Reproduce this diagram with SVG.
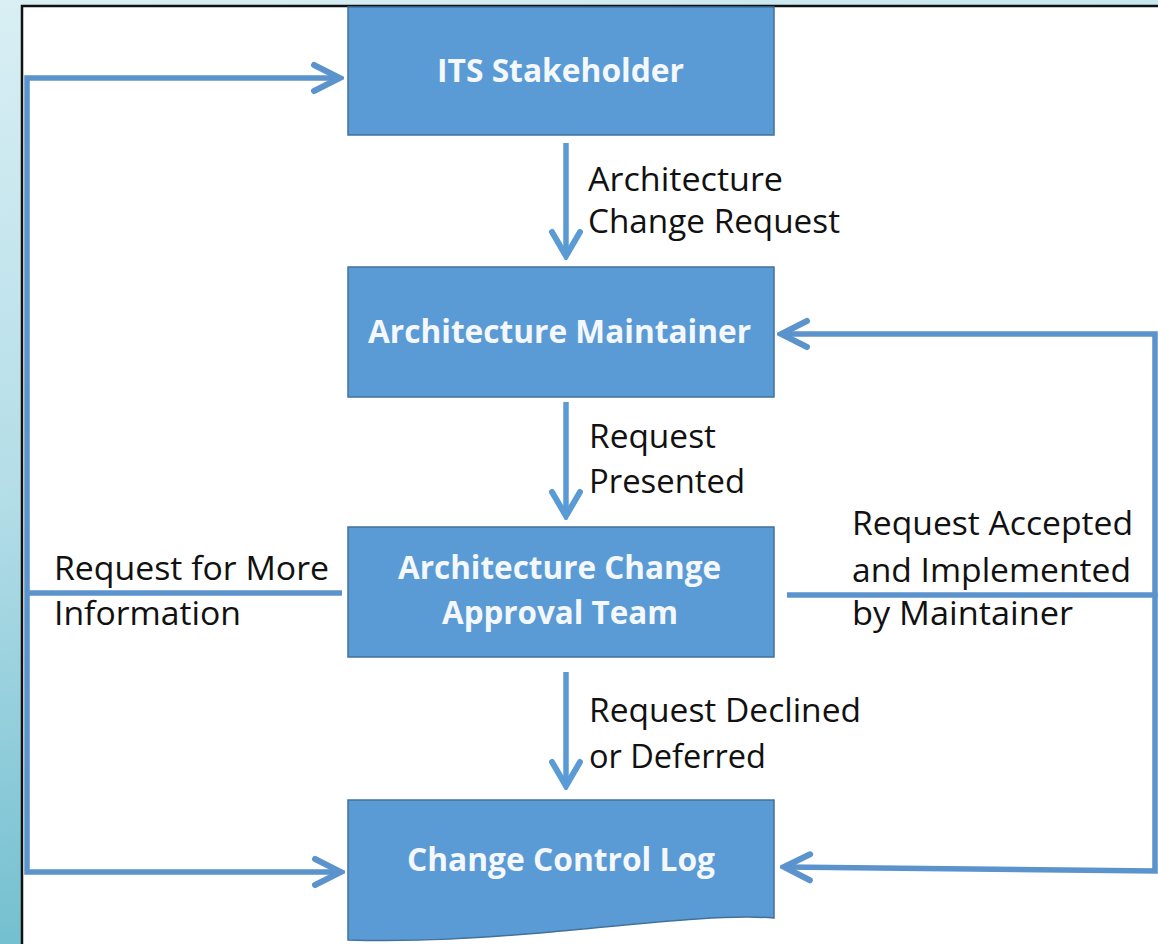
<svg xmlns="http://www.w3.org/2000/svg" width="1158" height="944" viewBox="0 0 1158 944">
  <defs>
    <linearGradient id="bg" x1="0" y1="0" x2="0.25" y2="1">
      <stop offset="0" stop-color="#d9eff4"/>
      <stop offset="0.5" stop-color="#b3dde7"/>
      <stop offset="1" stop-color="#6cbccd"/>
    </linearGradient>
    <marker id="chev" markerUnits="userSpaceOnUse" viewBox="0 0 34 34" refX="30" refY="17" markerWidth="34" markerHeight="34" orient="auto">
      <path d="M4,4 L30,17 L4,30" fill="none" stroke="#5b93cc" stroke-width="6" stroke-linecap="round" stroke-linejoin="miter"/>
    </marker>
    <marker id="chevV" markerUnits="userSpaceOnUse" viewBox="0 0 34 34" refX="30" refY="17" markerWidth="34" markerHeight="34" orient="auto">
      <path d="M6,3 L30,17 L6,31" fill="none" stroke="#5b9bd5" stroke-width="6" stroke-linecap="round"/>
    </marker>
  </defs>
  <style>
    .box { fill: #5b9bd5; stroke: #41719c; stroke-width: 1.5; }
    .bt { font-family: "Open Sans", "Liberation Sans", sans-serif; font-weight: bold; font-size: 32px; fill: #f4f8fc; }
    .lt { font-family: "Open Sans", "Liberation Sans", sans-serif; font-size: 33px; fill: #111111; }
    .con { fill: none; stroke: #5b93cc; stroke-width: 5.5; stroke-linejoin: miter; }
    .vcon { fill: none; stroke: #5b9bd5; stroke-width: 5.5; }
  </style>

  <rect x="0" y="0" width="1158" height="944" fill="url(#bg)"/>
  <rect x="22" y="6" width="1150" height="950" fill="#ffffff" stroke="#111111" stroke-width="2.5"/>

  <g id="connectors">
    <path class="vcon" d="M566,143 V256" marker-end="url(#chevV)"/>
    <path class="vcon" d="M566,402 V516" marker-end="url(#chevV)"/>
    <path class="vcon" d="M566,672 V786" marker-end="url(#chevV)"/>
    <path class="con" d="M342,593 H27" stroke-width="4.5"/>
    <path class="con" d="M27,593 V78 H340" marker-end="url(#chev)"/>
    <path class="con" d="M27,593 V872 H341" marker-end="url(#chev)"/>
    <path class="con" d="M787,595 H1155" stroke-width="4.5"/>
    <path class="con" d="M1155,597 V334 H781" marker-end="url(#chev)"/>
    <path class="con" d="M1155,593 V871 L784,867" marker-end="url(#chev)"/>
  </g>

  <g id="edge-labels">
    <text class="lt" x="588" y="191" textLength="195" lengthAdjust="spacingAndGlyphs">Architecture</text>
    <text class="lt" x="588" y="233" textLength="252" lengthAdjust="spacingAndGlyphs">Change Request</text>
    <text class="lt" x="589" y="448" textLength="127" lengthAdjust="spacingAndGlyphs">Request</text>
    <text class="lt" x="589" y="493" textLength="156" lengthAdjust="spacingAndGlyphs">Presented</text>
    <text class="lt" x="589" y="722" textLength="272" lengthAdjust="spacingAndGlyphs">Request Declined</text>
    <text class="lt" x="589" y="768" textLength="177" lengthAdjust="spacingAndGlyphs">or Deferred</text>
    <text class="lt" x="54" y="580" textLength="275" lengthAdjust="spacingAndGlyphs">Request for More</text>
    <text class="lt" x="54" y="625" textLength="187" lengthAdjust="spacingAndGlyphs">Information</text>
    <text class="lt" x="852" y="535" textLength="281" lengthAdjust="spacingAndGlyphs">Request Accepted</text>
    <text class="lt" x="852" y="582" textLength="279" lengthAdjust="spacingAndGlyphs">and Implemented</text>
    <text class="lt" x="852" y="625" textLength="221" lengthAdjust="spacingAndGlyphs">by Maintainer</text>
  </g>

  <g id="its-stakeholder">
    <rect class="box" x="348" y="7" width="426" height="128"/>
    <text class="bt" x="437" y="82" textLength="247" lengthAdjust="spacingAndGlyphs">ITS Stakeholder</text>
  </g>

  <g id="architecture-maintainer">
    <rect class="box" x="348" y="267" width="426" height="130"/>
    <text class="bt" x="368" y="343" textLength="383" lengthAdjust="spacingAndGlyphs">Architecture Maintainer</text>
  </g>

  <g id="approval-team">
    <rect class="box" x="348" y="527" width="426" height="130"/>
    <text class="bt" x="398" y="579" textLength="323" lengthAdjust="spacingAndGlyphs">Architecture Change</text>
    <text class="bt" x="442" y="624" textLength="236" lengthAdjust="spacingAndGlyphs">Approval Team</text>
  </g>

  <g id="change-control-log">
    <path class="box" d="M348,800 H774 V918 C720,914 640,924 540,933 C480,938 420,942 348,940 Z"/>
    <text class="bt" x="407" y="871" textLength="308" lengthAdjust="spacingAndGlyphs">Change Control Log</text>
  </g>
</svg>
